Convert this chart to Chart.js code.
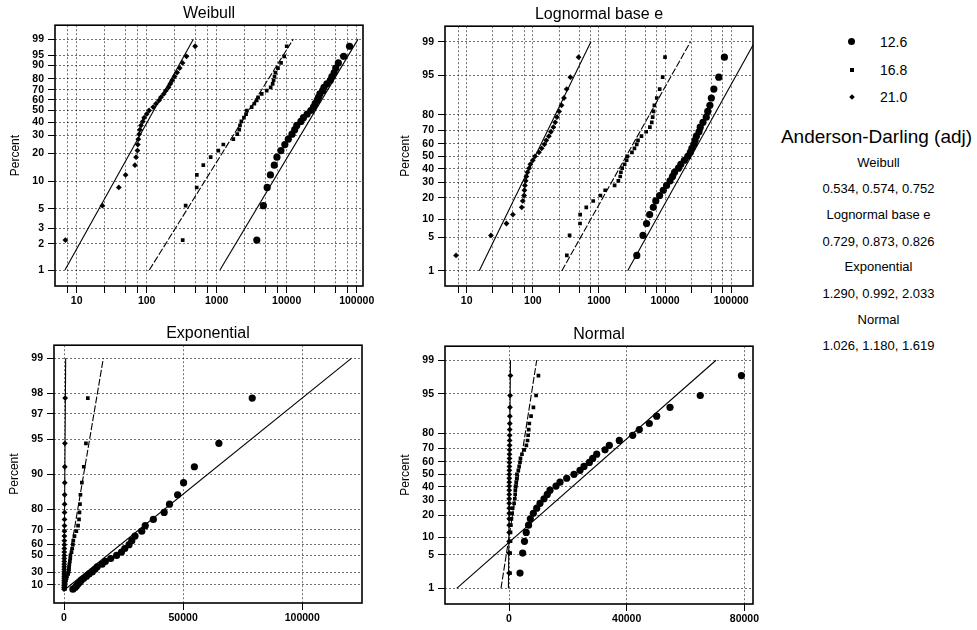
<!DOCTYPE html>
<html>
<head>
<meta charset="utf-8">
<script src="https://cdn.jsdelivr.net/npm/chart.js@4.4.1/dist/chart.umd.min.js"></script>
<style>
  body { margin: 0; background: #fff; font-family: "Liberation Sans", Arial, sans-serif; color: #000; }
  #page { position: relative; width: 977px; height: 630px; overflow: hidden; }
  .panel { position: absolute; width: 380px; }
  .panel canvas { display: block; }
  .key { position: absolute; left: 840px; height: 16px; font-size: 14px; line-height: 16px; }
  .key .lbl { position: absolute; left: 40px; top: 0; }
  .sym { position: absolute; background: #000; }
  .side { position: absolute; left: 780px; width: 197px; text-align: center; font-size: 13px; line-height: 16px; }
  .side.head { font-size: 19px; line-height: 20px; left: 778px; }
</style>
</head>
<body>
<div id="page">
  <div class="panel" id="pW" style="left:0;top:0;height:315px"><canvas id="cW"></canvas></div>
  <div class="panel" id="pL" style="left:390px;top:1px;height:314px"><canvas id="cL"></canvas></div>
  <div class="panel" id="pE" style="left:-1px;top:320px;height:312px"><canvas id="cE"></canvas></div>
  <div class="panel" id="pN" style="left:390px;top:321px;height:312px"><canvas id="cN"></canvas></div>

  <div class="key" style="top:34px"><span class="sym" style="left:8px;top:4px;width:7px;height:7px;border-radius:50%"></span><span class="lbl">12.6</span></div>
  <div class="key" style="top:62px"><span class="sym" style="left:10px;top:6px;width:4px;height:4px"></span><span class="lbl">16.8</span></div>
  <div class="key" style="top:89px"><span class="sym" style="left:10px;top:6px;width:4px;height:4px;transform:rotate(45deg)"></span><span class="lbl">21.0</span></div>

  <div class="side head" style="top:127px">Anderson-Darling (adj)</div>
  <div class="side" style="top:155px">Weibull</div>
  <div class="side" style="top:181px">0.534, 0.574, 0.752</div>
  <div class="side" style="top:207px">Lognormal base e</div>
  <div class="side" style="top:234px">0.729, 0.873, 0.826</div>
  <div class="side" style="top:259px">Exponential</div>
  <div class="side" style="top:286px">1.290, 0.992, 2.033</div>
  <div class="side" style="top:312px">Normal</div>
  <div class="side" style="top:338px">1.026, 1.180, 1.619</div>
</div>
<script>
// groups and their plotting positions (percent), same ranks for every group
const groups = ['12.6', '16.8', '21.0'];
const pctRanks = [2.2, 5.4, 8.6, 11.8, 15.0, 18.2, 21.3, 24.5, 27.7, 30.9, 34.1, 37.3, 40.5, 43.6, 46.8,
  50.0, 53.2, 56.4, 59.6, 62.7, 65.9, 69.1, 72.3, 75.5, 78.7, 81.9, 85.0, 88.2, 91.4, 94.6, 97.8];

// sorted observations per group
const times126 = [3740, 4640, 5260, 5850, 6650, 7250, 8270, 9410, 10540, 11900, 13000, 13930, 15970, 17330, 19600,
  22090, 24130, 25490, 27300, 28440, 29800, 32630, 34090, 37490, 42030, 44280, 47680, 50190, 54720, 65000, 79000];
const times168 = [327, 360, 518, 520, 644, 820, 1054, 1243, 1727, 1968, 2100, 2150, 2250, 2450, 2627,
  2700, 3160, 3450, 3730, 3900, 4400, 5180, 5900, 6300, 6500, 6700, 6900, 7500, 8300, 9200, 10000];
const times210 = [6.9, 23.3, 40, 50, 68, 70.5, 73.8, 74.7, 76, 78, 80, 83, 88, 92, 100,
  108, 124, 136, 150, 160, 175, 188, 205, 218, 232, 250, 272, 296, 325, 370, 492];

// fitted lines: x at 1% and at 99% for each group (12.6, 16.8, 21.0)
const weibullLo = [1114, 109, 6.8];
const weibullHi = [104500, 12400, 464];
const lognormLo = [2720, 275, 15.5];
const lognormHi = [228000, 24200, 757];
const expoLo = [263, 36, 1.5];
const expoHi = [120600, 16500, 700];
const normLo = [-17770, -2720, -200];
const normHi = [70340, 9410, 500];

// axis ticks
const logTicks = [7.5, 10, 25, 50, 75, 100, 250, 500, 750, 1000, 2500, 5000, 7500, 10000, 25000, 50000, 75000, 100000];
const weibullPct = [1, 2, 3, 5, 10, 20, 30, 40, 50, 60, 70, 80, 90, 95, 99];
const normPct = [1, 5, 10, 20, 30, 40, 50, 60, 70, 80, 95, 99];
const expoPct = [10, 30, 50, 60, 70, 80, 90, 95, 97, 98, 99];
const expoXTicks = [0, 50000, 100000];
const normXTicks = [0, 40000, 80000];

function probit(p) {
  const a = [-3.969683028665376e+01, 2.209460984245205e+02, -2.759285104469687e+02, 1.383577518672690e+02, -3.066479806614716e+01, 2.506628277459239e+00];
  const b = [-5.447609879822406e+01, 1.615858368580409e+02, -1.556989798598866e+02, 6.680131188771972e+01, -1.328068155288572e+01];
  const c = [-7.784894002430293e-03, -3.223964580411365e-01, -2.400758277161838e+00, -2.549732539343734e+00, 4.374664141464968e+00, 2.938163982698783e+00];
  const d = [7.784695709041462e-03, 3.224671290700398e-01, 2.445134137142996e+00, 3.754408661907416e+00];
  const lo = 0.02425;
  let q, r;
  if (p < lo) {
    q = Math.sqrt(-2 * Math.log(p));
    return (((((c[0] * q + c[1]) * q + c[2]) * q + c[3]) * q + c[4]) * q + c[5]) / ((((d[0] * q + d[1]) * q + d[2]) * q + d[3]) * q + 1);
  }
  if (p > 1 - lo) return -probit(1 - p);
  q = p - 0.5; r = q * q;
  return (((((a[0] * r + a[1]) * r + a[2]) * r + a[3]) * r + a[4]) * r + a[5]) * q / (((((b[0] * r + b[1]) * r + b[2]) * r + b[3]) * r + b[4]) * r + 1);
}
function normCdf(z) {
  const t = 1 / (1 + 0.3275911 * Math.abs(z) / Math.SQRT2);
  const y = 1 - (((((1.061405429 * t - 1.453152027) * t) + 1.421413741) * t - 0.284496736) * t + 0.254829592) * t * Math.exp(-z * z / 2);
  return z >= 0 ? 0.5 * (1 + y) : 0.5 * (1 - y);
}

// probability paper scales: percent values mapped through the distribution's quantile transform
function probScale(id, fwd, inv) {
  return class extends Chart.LinearScale {
    static id = id;
    static defaults = {};
    getPixelForValue(value) {
      if (value === null || value === undefined || isNaN(value)) return NaN;
      const a = fwd(this.min), b = fwd(this.max);
      return this.getPixelForDecimal((fwd(value) - a) / (b - a));
    }
    getValueForPixel(pixel) {
      const a = fwd(this.min), b = fwd(this.max);
      return inv(a + this.getDecimalForPixel(pixel) * (b - a));
    }
  };
}
Chart.register(
  probScale('weibullprob', p => Math.log(-Math.log(1 - p / 100)), t => 100 * (1 - Math.exp(-Math.exp(t)))),
  probScale('normprob', p => probit(p / 100), z => 100 * normCdf(z)),
  probScale('expoprob', p => -Math.log(1 - p / 100), t => 100 * (1 - Math.exp(-t)))
);

const FONT = '"Liberation Sans", Arial, sans-serif';
const tickFont = { family: FONT, size: 10.5, weight: 'bold' };
const gridStyle = { color: 'rgba(0,0,0,0.55)', lineWidth: 1, tickColor: '#000', tickLength: 7, tickWidth: 1, tickBorderDash: [] };

const frame = {
  id: 'frame',
  afterDatasetsDraw(chart) {
    const { ctx, chartArea: a } = chart;
    ctx.save();
    ctx.strokeStyle = '#000';
    ctx.lineWidth = 1.6;
    ctx.strokeRect(a.left, a.top, a.right - a.left, a.bottom - a.top);
    ctx.restore();
  }
};

const markStyle = [
  { pointStyle: 'circle', pointRadius: 3.6 },
  { pointStyle: 'rect', pointRadius: 2.6 },
  { pointStyle: 'rectRot', pointRadius: 2.9 }
];
const lineDash = [[], [7, 2], []];
const allTimes = [times126, times168, times210];

function buildPanel(canvasId, title, xScale, yScale, fitLo, fitHi) {
  const datasets = [];
  groups.forEach((g, i) => {
    datasets.push({
      label: g,
      data: allTimes[i].map((x, k) => ({ x, y: pctRanks[k] })),
      backgroundColor: '#000',
      borderColor: '#000',
      borderWidth: 0,
      ...markStyle[i]
    });
    datasets.push({
      label: g + ' fit',
      data: [{ x: fitLo[i], y: 1 }, { x: fitHi[i], y: 99 }],
      showLine: true,
      pointRadius: 0,
      borderColor: '#000',
      borderWidth: 1.1,
      borderDash: lineDash[i]
    });
  });

  new Chart(document.getElementById(canvasId), {
    type: 'scatter',
    data: { datasets },
    plugins: [frame],
    options: {
      responsive: true,
      maintainAspectRatio: false,
      animation: false,
      layout: { padding: { left: 0, right: 17, top: 0, bottom: 0 } },
      plugins: {
        legend: { display: false },
        tooltip: { enabled: false },
        title: {
          display: true, text: title, fullSize: false, color: '#000',
          font: { family: FONT, size: 16, weight: 'normal' },
          padding: { top: 4, bottom: 2 }
        }
      },
      scales: {
        x: Object.assign({
          position: 'bottom',
          border: { display: false, dash: [2, 2] },
          grid: gridStyle,
          afterFit(s) { s.height = 29; s.paddingLeft = 0; s.paddingRight = 0; }
        }, xScale, {
          ticks: Object.assign({ color: '#000', font: tickFont, padding: 2, autoSkip: false, maxRotation: 0 }, xScale.ticks)
        }),
        y: {
          type: yScale.type,
          min: yScale.min,
          max: yScale.max,
          bounds: 'data',
          border: { display: false, dash: [2, 2] },
          grid: gridStyle,
          afterBuildTicks(s) { s.ticks = yScale.ticks.map(v => ({ value: v })); },
          afterFit(s) { s.width = 55; s.paddingTop = 0; s.paddingBottom = 0; },
          ticks: { color: '#000', font: tickFont, padding: 4, autoSkip: false, callback: v => String(v) },
          title: { display: true, text: 'Percent', color: '#000', font: { family: FONT, size: 12 }, padding: { top: 8, bottom: 0 } }
        }
      }
    }
  });
}

const logX = (min, max) => ({
  type: 'logarithmic', min, max,
  afterBuildTicks(s) { s.ticks = logTicks.map(v => ({ value: v })); },
  ticks: { callback: v => ([10, 100, 1000, 10000, 100000].includes(v) ? String(v) : '') }
});
const linX = (min, max, vals) => ({
  type: 'linear', min, max, bounds: 'data',
  afterBuildTicks(s) { s.ticks = vals.map(v => ({ value: v })); },
  ticks: { callback: v => String(v) }
});

buildPanel('cW', 'Weibull', logX(4.9, 123000),
  { type: 'weibullprob', min: 0.656, max: 99.873, ticks: weibullPct }, weibullLo, weibullHi);
buildPanel('cL', 'Lognormal base e', logX(4.7, 214000),
  { type: 'normprob', min: 0.42, max: 99.59, ticks: normPct }, lognormLo, lognormHi);
buildPanel('cE', 'Exponential', linX(-4200, 125080, expoXTicks),
  { type: 'expoprob', min: -28.7, max: 99.23, ticks: expoPct }, expoLo, expoHi);
buildPanel('cN', 'Normal', linX(-21750, 82920, normXTicks),
  { type: 'normprob', min: 0.4085, max: 99.551, ticks: normPct }, normLo, normHi);
</script>
</body>
</html>
